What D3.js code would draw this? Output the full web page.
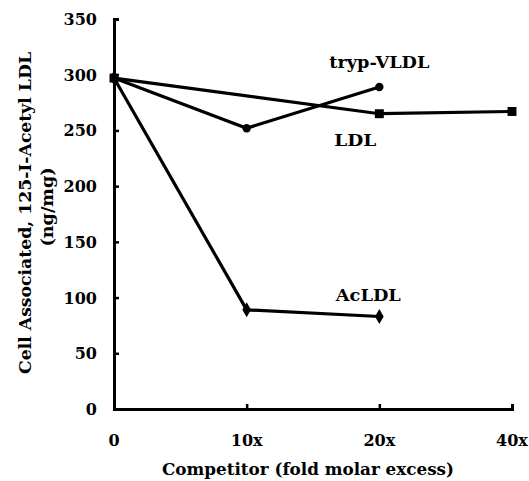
<!DOCTYPE html>
<html>
<head>
<meta charset="utf-8">
<script src="https://cdn.jsdelivr.net/npm/d3@7"></script>
<style>
body { margin: 0; background: #fff; }
text { font-family: "DejaVu Serif", serif; font-weight: bold; fill: #000; }
</style>
</head>
<body>
<div class="chart"></div>
<script>
// categories on the x axis
var competitors = ["0", "10x", "20x", "40x"];
var yTicks = [0, 50, 100, 150, 200, 250, 300, 350];

// series values (ng/mg), null = not measured
var trypVLDL = [297, 252, 289, null];
var ldl = [297, null, 265, 267];
var acLDL = [297, 89, 83, null];

var width = 529, height = 481;
var margin = {left: 114, right: 17, top: 19, bottom: 72};

var svg = d3.select(".chart").append("svg")
    .attr("width", width)
    .attr("height", height);

var x = d3.scalePoint()
    .domain(competitors)
    .range([margin.left, width - margin.right]);

var y = d3.scaleLinear()
    .domain([0, 350])
    .range([height - margin.bottom, margin.top]);

//axes
svg.append("g")
    .attr("transform", "translate(" + margin.left + ",0)")
    .call(d3.axisRight(y).tickValues(yTicks).tickSize(5).tickFormat(""));
svg.append("g")
    .attr("transform", "translate(0," + (height - margin.bottom) + ")")
    .call(d3.axisTop(x).tickSize(5).tickFormat(""));

svg.selectAll(".domain").attr("stroke", "#000").attr("stroke-width", 3);
svg.selectAll(".tick line").attr("stroke", "#000").attr("stroke-width", 2.5);

//tick labels, drawn by hand so they sit like the original
svg.append("g").selectAll("text")
    .data(yTicks)
    .enter().append("text")
    .attr("x", margin.left - 17)
    .attr("y", function(d) { return y(d) + 6; })
    .attr("text-anchor", "end")
    .style("font-size", "16px")
    .text(function(d) { return d; });

svg.append("g").selectAll("text")
    .data(competitors)
    .enter().append("text")
    .attr("x", function(d) { return x(d); })
    .attr("y", height - margin.bottom + 37)
    .attr("text-anchor", "middle")
    .style("font-size", "16px")
    .text(function(d) { return d; });

//axis titles
svg.append("text")
    .attr("x", 308)
    .attr("y", 475)
    .attr("text-anchor", "middle")
    .attr("textLength", 292)
    .attr("lengthAdjust", "spacingAndGlyphs")
    .style("font-size", "16px")
    .text("Competitor (fold molar excess)");

svg.append("text")
    .attr("transform", "translate(31,213) rotate(-90)")
    .attr("text-anchor", "middle")
    .attr("textLength", 322)
    .attr("lengthAdjust", "spacingAndGlyphs")
    .style("font-size", "16px")
    .text("Cell Associated, 125-I-Acetyl LDL");
svg.append("text")
    .attr("transform", "translate(53,207) rotate(-90)")
    .attr("text-anchor", "middle")
    .attr("textLength", 79)
    .attr("lengthAdjust", "spacingAndGlyphs")
    .style("font-size", "16px")
    .text("(ng/mg)");

var line = d3.line()
    .x(function(d) { return x(d.c); })
    .y(function(d) { return y(d.v); });

function pts(vals) {
    return competitors.map(function(c, i) { return {c: c, v: vals[i]}; })
        .filter(function(d) { return d.v != null; });
}

var series = [
    {name: "tryp-VLDL", vals: trypVLDL, sym: d3.symbolCircle, size: 55},
    {name: "LDL", vals: ldl, sym: d3.symbolSquare, size: 80},
    {name: "AcLDL", vals: acLDL, sym: d3.symbolDiamond, size: 65}
];

series.forEach(function(s) {
    var p = pts(s.vals);
    svg.append("path")
        .datum(p)
        .attr("d", line)
        .attr("fill", "none")
        .attr("stroke", "#000")
        .attr("stroke-width", 3.2);
    svg.append("g").selectAll("path")
        .data(p)
        .enter().append("path")
        .attr("transform", function(d) { return "translate(" + x(d.c) + "," + y(d.v) + ")"; })
        .attr("d", d3.symbol().type(s.sym).size(s.size))
        .attr("fill", "#000");
});

//series labels
var labels = [
    {text: "tryp-VLDL", c: "20x", v: 306, dx: 0, len: 100},
    {text: "LDL", c: "20x", v: 236, dx: -24, len: 42},
    {text: "AcLDL", c: "20x", v: 97, dx: -11, len: 65}
];
svg.append("g").selectAll("text")
    .data(labels)
    .enter().append("text")
    .attr("x", function(d) { return x(d.c) + d.dx; })
    .attr("y", function(d) { return y(d.v); })
    .attr("text-anchor", "middle")
    .attr("textLength", function(d) { return d.len; })
    .attr("lengthAdjust", "spacingAndGlyphs")
    .style("font-size", "16px")
    .text(function(d) { return d.text; });
</script>
</body>
</html>
